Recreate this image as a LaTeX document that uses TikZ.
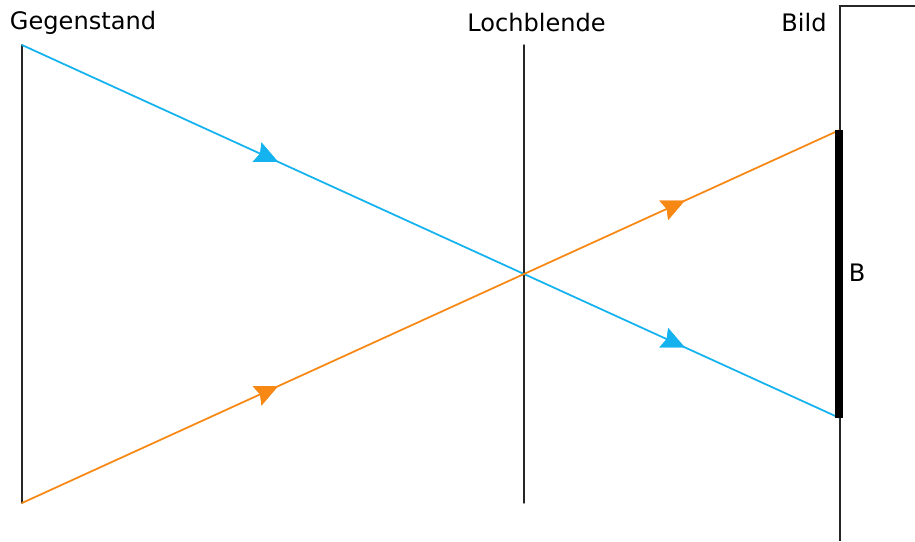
\documentclass[tikz,border=0pt]{standalone}
\usepackage{fontspec}
\setmainfont{DejaVu Sans}
\usetikzlibrary{arrows.meta,calc,decorations.markings}
\usepackage{tkz-euclide}
\definecolor{RayBlue}{RGB}{20,178,238}
\definecolor{RayOrange}{RGB}{248,136,20}

\begin{document}
\begin{tikzpicture}[
  label text/.style={font=\fontsize{13.7}{15}\selectfont,inner sep=0pt},
  ray arrow/.style={postaction={decorate},decoration={markings,
    mark=at position .51 with {\arrow{Stealth[length=13pt,width=12pt,inset=1.8pt]}}}}]
\useasboundingbox (0,0) rectangle (18.3,10.82);
\tkzSetUpLine[line width=0.8pt,color=black!85]

\tkzDefPoints{0.44/9.92/G1,0.44/0.76/G2,10.48/9.92/L1,10.48/0.76/L2}
\tkzDefPoints{16.8/10.7/S1,16.8/0/S2,18.3/10.7/S3,16.78/10/T1,16.78/0/T2}
\tkzDefMidPoint(L1,L2) \tkzGetPoint{M}

\tkzInterLL(G1,M)(T1,T2) \tkzGetPoint{B2}
\tkzInterLL(G2,M)(T1,T2) \tkzGetPoint{B1}


\tkzDrawSegments[line width=0.8pt,color=black!85](G1,G2 L1,L2)
\draw[line width=0.8pt,color=black!85] (S3) -- (S1) -- (S2);

\tkzDrawSegments[line width=1pt,color=RayBlue,ray arrow](G1,M M,B2)
\tkzDrawSegments[line width=1pt,color=RayOrange,ray arrow](G2,M M,B1)

\tkzDrawSegment[line width=4.5pt,line cap=butt,color=black](B1,B2)

\node[label text,anchor=base] (gegenstand) at (1.66,10.23) {Gegenstand};
\node[label text,anchor=base] (lochblende) at (10.73,10.18) {Lochblende};
\node[label text,anchor=base] (bild) at (16.08,10.19) {Bild};
\node[label text] (bildB) at (17.14,5.36) {B};

\end{tikzpicture}
\end{document}
